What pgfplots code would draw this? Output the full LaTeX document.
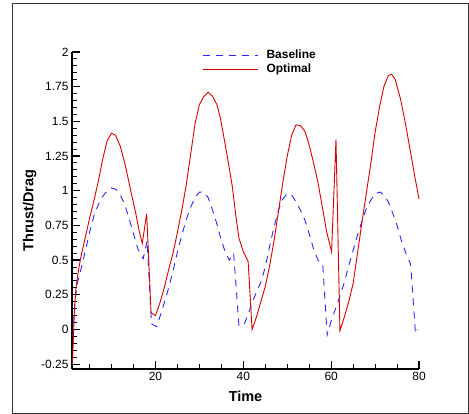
\documentclass[border=0pt]{standalone}
\usepackage{fontspec}
\setmainfont{Liberation Sans}
\usepackage{pgfplots}
\pgfplotsset{compat=1.18}

\definecolor{optred}{RGB}{215,0,0}
\definecolor{baseblue}{RGB}{40,40,255}

\begin{document}
\begin{tikzpicture}
  \useasboundingbox (0bp,0bp) rectangle (469bp,414bp);
  \draw[black!80,line width=0.9bp] (12.5bp,1bp) rectangle (468bp,411bp);
  \begin{axis}[
    at={(72bp,45bp)}, anchor=south west,
    scale only axis,
    width=347bp, height=317bp,
    xmin=1, xmax=80,
    ymin=-0.285, ymax=2,
    axis x line*=bottom, axis y line*=left,
    axis line style={line width=1.6bp,-},
    xtick={20,40,60,80},
    minor xtick={5,10,15,25,30,35,45,50,55,65,70,75},
    ytick={-0.25,0,0.25,0.5,0.75,1,1.25,1.5,1.75,2},
    yticklabels={-0.25,0,0.25,0.5,0.75,1,1.25,1.5,1.75,2},
    minor ytick={-0.2,-0.15,-0.1,-0.05,0.05,0.1,0.15,0.2,0.3,0.35,0.4,0.45,0.55,0.6,0.65,0.7,0.8,0.85,0.9,0.95,1.05,1.1,1.15,1.2,1.3,1.35,1.4,1.45,1.55,1.6,1.65,1.7,1.8,1.85,1.9,1.95},
    tick align=inside,
    major tick length=8bp, minor tick length=5bp,
    tick style={black,line width=1.2bp},
    minor tick style={black,line width=1bp},
    /pgf/number format/assume math mode=true,
    tick label style={font=\fontsize{12}{14}\selectfont},
    xlabel={\textbf{Time}}, ylabel={\textbf{Thrust/Drag}},
    label style={font=\fontsize{14.5}{16}\selectfont},
    xlabel style={yshift=-3bp},
    ylabel style={yshift=-2bp},
    clip=false,
    legend style={draw=none, fill=none, at={(0.366,1.018)}, anchor=north west,
      font=\bfseries\fontsize{12}{14}\selectfont, row sep=1bp,
      column sep=7bp, nodes={inner sep=1.5bp}},
    legend cell align=left,
    legend image code/.code={\draw[#1] (0bp,0bp) -- (55bp,0bp);},
  ]
  \addplot[baseblue, line width=0.9bp, dash pattern=on 7bp off 6bp] coordinates {
    (1.2,-0.05) (1.6,0.18) (2.2,0.33) (3,0.43) (4,0.56) (5,0.70) (6,0.82) (7,0.90)
    (8,0.96) (9,1.0) (10,1.02) (11,1.01) (12,0.97) (13,0.90) (14,0.80) (15,0.69)
    (16,0.58) (17.2,0.51) (18.1,0.64) (19.1,0.04) (20.3,0.02) (21,0.09) (22,0.19)
    (23,0.30) (24,0.42) (25,0.56) (26,0.68) (27,0.79) (28,0.88) (29,0.95) (30,0.99)
    (31,0.99) (32,0.95) (33,0.86) (34,0.76) (35,0.64) (36,0.55) (36.8,0.50)
    (37.8,0.55) (39,0.03) (40.1,0.03) (41,0.10) (42,0.19) (43,0.27) (44,0.34)
    (45,0.45) (46,0.60) (47,0.74) (48,0.86) (49,0.94) (50,0.98) (51,0.97) (52,0.92)
    (53,0.86) (54,0.79) (55,0.69) (56,0.58) (57,0.50) (58.1,0.46) (59.1,-0.04)
    (60.1,0.07) (61,0.15) (62,0.24) (63,0.34) (64,0.46) (65,0.57) (66,0.68)
    (67,0.78) (68,0.87) (69,0.93) (70,0.98) (71.2,0.99) (72,0.97) (73,0.92)
    (74,0.84) (75,0.75) (76,0.64) (77,0.55) (78.1,0.47) (79.2,-0.03) (79.6,0.0)
  };
  \addlegendentry{Baseline}
  \addplot[optred, line width=0.9bp] coordinates {
    (1.1,-0.25) (1.5,0.1) (1.9,0.3) (2.5,0.43) (3,0.52) (4,0.66) (5,0.80) (6,0.93)
    (7,1.07) (8,1.23) (9,1.36) (10,1.415) (10.9,1.40) (12,1.32) (13,1.20)
    (13.5,1.13) (14.5,0.98) (15.5,0.84) (16.3,0.71) (17,0.62) (18,0.835) (19,0.12)
    (20,0.10) (21,0.19) (22,0.30) (23,0.43) (24,0.55) (25,0.70) (26,0.86)
    (27,1.04) (28,1.26) (29,1.48) (30,1.62) (31,1.68) (32,1.71) (33,1.68)
    (34,1.62) (34.8,1.52) (35.5,1.40) (36.5,1.22) (37.5,1.03) (38.3,0.82)
    (39,0.66) (40,0.56) (41.1,0.49) (42,0.0) (43,0.09) (44,0.20) (45,0.31)
    (46,0.46) (47,0.64) (48,0.85) (49,1.06) (50,1.25) (51,1.40) (52,1.475)
    (53,1.47) (54,1.43) (55,1.33) (56,1.20) (57,1.06) (58,0.88) (59,0.70)
    (60.1,0.56) (61.1,1.37) (62,-0.01) (63,0.09) (64,0.20) (65,0.33) (66,0.55)
    (67,0.77) (68,0.98) (69,1.19) (70,1.42) (71,1.60) (72,1.75) (73,1.83)
    (73.8,1.84) (74.6,1.80) (75.8,1.66) (77,1.47) (78,1.29) (79,1.11) (80,0.94)
  };
  \addlegendentry{Optimal}
  \end{axis}
\end{tikzpicture}
\end{document}
